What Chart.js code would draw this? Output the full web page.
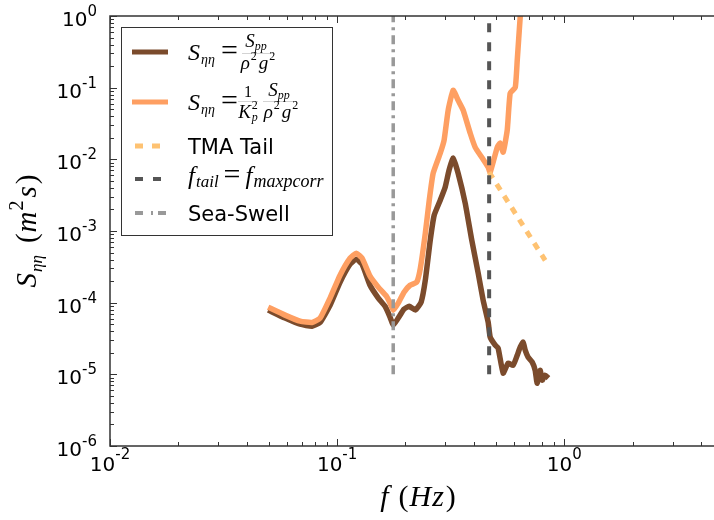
<!DOCTYPE html>
<html>
<head>
<meta charset="utf-8">
<script src="https://cdn.jsdelivr.net/npm/chart.js@4.4.1/dist/chart.umd.min.js"></script>
<style>
  html, body { margin: 0; padding: 0; background: #fff; overflow: hidden; }
  #wrap { width: 714px; height: 520px; overflow: hidden; position: relative; }
</style>
</head>
<body>
<div id="wrap"><canvas id="myChart" width="740" height="520"></canvas></div>
<script>
// spectrum S = Spp / (rho^2 g^2)
const freqRaw = [0.0497, 0.059, 0.0687, 0.0776, 0.0841, 0.0931, 0.103, 0.114, 0.1214, 0.1288,
  0.1396, 0.1518, 0.1626, 0.171, 0.1766, 0.1858, 0.197, 0.2075, 0.221, 0.2344,
  0.2445, 0.257, 0.2675, 0.2845, 0.299, 0.311, 0.3243, 0.341, 0.3664, 0.3917,
  0.418, 0.4395, 0.4624, 0.472, 0.4966, 0.5117, 0.5383, 0.566, 0.5954, 0.6209,
  0.6397, 0.659, 0.673, 0.693, 0.7226, 0.7447, 0.76, 0.783, 0.80, 0.824, 0.851];
const specRaw = [7.9e-5, 6.1e-5, 5.0e-5, 4.7e-5, 5.3e-5, 9.2e-5, 1.93e-4, 3.44e-4, 4.04e-4, 3.44e-4,
  1.75e-4, 1.16e-4, 8.9e-5, 6.3e-5, 4.85e-5, 6.1e-5, 8.1e-5, 8.9e-5, 7.9e-5, 1.02e-4,
  2.06e-4, 7.4e-4, 1.66e-3, 2.69e-3, 4.08e-3, 7.05e-3, 1.04e-2, 6.4e-3, 2.44e-3, 7.4e-4,
  2.58e-4, 1.08e-4, 5.35e-5, 3.3e-5, 2.55e-5, 2.32e-5, 1.04e-5, 1.43e-5, 1.34e-5, 1.85e-5,
  2.4e-5, 2.81e-5, 2.18e-5, 1.74e-5, 1.48e-5, 1.14e-5, 7.5e-6, 1.14e-5, 8.3e-6, 9.75e-6, 8.85e-6];

// spectrum corrected with Kp
const freqCorr = [0.0497, 0.059, 0.0687, 0.0776, 0.0841, 0.0931, 0.103, 0.114, 0.1214, 0.1288,
  0.1396, 0.1518, 0.1648, 0.171, 0.1766, 0.1858, 0.197, 0.2095, 0.224, 0.2325,
  0.2445, 0.2545, 0.2648, 0.2845, 0.2958, 0.3083, 0.3243, 0.341, 0.359, 0.3855,
  0.4055, 0.4356, 0.4624, 0.472, 0.507, 0.5224, 0.5383, 0.561, 0.578, 0.6085,
  0.6209, 0.6397, 0.653];
const specCorr = [8.65e-5, 6.7e-5, 5.52e-5, 5.3e-5, 6.08e-5, 1.16e-4, 2.42e-4, 4.18e-4, 4.9e-4, 4.18e-4,
  2.34e-4, 1.64e-4, 1.23e-4, 9.85e-5, 7.86e-5, 9.85e-5, 1.4e-4, 1.75e-4, 1.93e-4, 3.03e-4,
  9.3e-4, 2.69e-3, 6.4e-3, 1.22e-2, 1.85e-2, 4.84e-2, 9.2e-2, 6.67e-2, 4.84e-2, 2.31e-2,
  1.47e-2, 1.04e-2, 7.76e-3, 6.6e-3, 1.47e-2, 1.68e-2, 1.26e-2, 2.55e-2, 8.36e-2, 0.101,
  0.241, 0.96, 2.3];

const tmaFreq = [0.467, 0.824];
const tmaSpec = [6.6e-3, 3.9e-4];

const fTail = 0.467;
const fSwell = 0.1766;
const vlineSpan = [1e-5, 1];

const xDecades = [-2, -1, 0];
const yDecades = [-6, -5, -4, -3, -2, -1, 0];

const cBrown = '#7b4b2c';
const cOrange = '#fe9f62';
const cTma = '#fec272';
const cTail = '#555555';
const cSwell = '#999999';

const pts = (xs, ys) => xs.map((x, i) => ({ x: x, y: ys[i] }));

// draw a row of text pieces, each {t, f, dy, adv}
function drawRuns(ctx, runs, x, y, align) {
    let w = 0;
    runs.forEach(r => { ctx.font = r.f; r.w = ctx.measureText(r.t).width; if (r.adv !== false) w += r.w + (r.gap || 0); });
    let cx = align === 'center' ? x - w / 2 : align === 'right' ? x - w : x;
    ctx.textAlign = 'left';
    ctx.textBaseline = 'alphabetic';
    runs.forEach(r => {
        ctx.font = r.f;
        ctx.fillText(r.t, cx + (r.dx || 0), y + (r.dy || 0));
        if (r.adv !== false) cx += r.w + (r.gap || 0);
    });
}

const SANS = "'DejaVu Sans'";
const SERIF = "'Liberation Serif'";

const axesPlugin = {
    id: 'mplAxes',
    afterDraw(chart) {
        const ctx = chart.ctx, a = chart.chartArea;
        const xs = chart.scales.x, ys = chart.scales.y;
        ctx.save();
        ctx.strokeStyle = '#333';
        ctx.lineWidth = 1.5;
        ctx.strokeRect(a.left, a.top, a.right - a.left, a.bottom - a.top);

        // ticks, inward
        ctx.lineWidth = 1;
        ctx.beginPath();
        xDecades.concat([1]).forEach(d => {
            for (let m = 1; m <= 9; m++) {
                const v = m * Math.pow(10, d);
                if (v > xs.max) continue;
                const px = Math.round(xs.getPixelForValue(v)) + 0.5;
                const len = m === 1 ? 7 : 4;
                ctx.moveTo(px, a.bottom); ctx.lineTo(px, a.bottom - len);
                ctx.moveTo(px, a.top); ctx.lineTo(px, a.top + len);
            }
        });
        yDecades.forEach(d => {
            for (let m = 1; m <= 9; m++) {
                const v = m * Math.pow(10, d);
                if (v > ys.max) continue;
                const py = Math.round(ys.getPixelForValue(v)) + 0.5;
                const len = m === 1 ? 7 : 4;
                ctx.moveTo(a.left, py); ctx.lineTo(a.left + len, py);
                ctx.moveTo(a.right, py); ctx.lineTo(a.right - len, py);
            }
        });
        ctx.stroke();

        // tick labels
        ctx.fillStyle = '#000';
        xDecades.forEach(d => {
            const px = xs.getPixelForValue(Math.pow(10, d));
            drawRuns(ctx, [
                { t: '10', f: '20px ' + SANS },
                { t: String(d), f: '15px ' + SANS, dy: -12 }
            ], px, a.bottom + 25, 'center');
        });
        yDecades.forEach(d => {
            const py = ys.getPixelForValue(Math.pow(10, d));
            drawRuns(ctx, [
                { t: '10', f: '20px ' + SANS },
                { t: String(d), f: '15px ' + SANS, dy: -10 }
            ], 97, py + 10, 'right');
        });

        // axis titles
        drawRuns(ctx, [
            { t: 'f', f: 'italic 30px ' + SERIF, gap: 10 },
            { t: '(', f: '30px ' + SERIF, gap: 1 },
            { t: 'H', f: 'italic 30px ' + SERIF, gap: 1 },
            { t: 'z', f: 'italic 30px ' + SERIF, gap: 2 },
            { t: ')', f: '30px ' + SERIF }
        ], 418, 506, 'center');

        ctx.save();
        ctx.translate(28, (a.top + a.bottom) / 2);
        ctx.rotate(-Math.PI / 2);
        drawRuns(ctx, [
            { t: 'S', f: 'italic 29px ' + SERIF, gap: 1 },
            { t: 'ηη', f: 'italic 17px ' + SERIF, dy: 6, gap: 12 },
            { t: '(', f: '29px ' + SERIF, gap: 1 },
            { t: 'm', f: 'italic 29px ' + SERIF, gap: 1 },
            { t: '2', f: '20px ' + SERIF, dy: -13, gap: 3 },
            { t: 's', f: 'italic 29px ' + SERIF, gap: 2 },
            { t: ')', f: '29px ' + SERIF }
        ], 0, 8, 'center');
        ctx.restore();

        // legend
        const lx = 121, ly = 27, lw = 211, lh = 208;
        ctx.fillStyle = '#fff';
        ctx.fillRect(lx, ly, lw, lh);
        ctx.strokeStyle = '#333';
        ctx.lineWidth = 1;
        ctx.strokeRect(lx + 0.5, ly + 0.5, lw, lh);

        const sample = (y, color, width, dash) => {
            ctx.beginPath();
            ctx.strokeStyle = color;
            ctx.lineWidth = width;
            ctx.setLineDash(dash);
            ctx.moveTo(dash.length ? 135 : 132, y);
            ctx.lineTo(168, y);
            ctx.stroke();
            ctx.setLineDash([]);
        };
        sample(52, cBrown, 5, []);
        sample(102, cOrange, 5, []);
        sample(146, cTma, 5, [8, 9]);
        sample(179, cTail, 4, [8, 10]);
        sample(213, cSwell, 4, [8, 8, 2, 5]);

        // faint fraction bars
        const bar = (x0, x1, y) => {
            ctx.beginPath();
            ctx.strokeStyle = '#c8c8c8';
            ctx.lineWidth = 0.8;
            ctx.moveTo(x0, y); ctx.lineTo(x1, y);
            ctx.stroke();
        };
        bar(242, 274, 53.5);
        bar(238, 258, 101.5);
        bar(263, 297, 101.5);

        ctx.fillStyle = '#000';
        const it = s => 'italic ' + s + 'px ' + SERIF;
        const rm = s => s + 'px ' + SERIF;
        const lhs = [
            { t: 'S', f: it(24), gap: 1 },
            { t: 'ηη', f: it(14), dy: 4, gap: 6 },
            { t: '=', f: rm(30) }
        ];
        // row 1
        drawRuns(ctx, lhs, 188, 60, 'left');
        drawRuns(ctx, [{ t: 'S', f: it(19) }, { t: 'pp', f: it(12), dy: 3 }], 256, 47, 'center');
        drawRuns(ctx, [{ t: 'ρ', f: it(19), gap: 1 }, { t: '2', f: rm(12), dy: -9, gap: 2 },
            { t: 'g', f: it(19), gap: 1 }, { t: '2', f: rm(12), dy: -9 }], 258, 69, 'center');
        // row 2
        drawRuns(ctx, lhs, 188, 110, 'left');
        drawRuns(ctx, [{ t: '1', f: rm(16) }], 248, 97, 'center');
        drawRuns(ctx, [{ t: 'K', f: it(19), gap: 1 }, { t: '2', f: rm(12), dy: -9, adv: false },
            { t: 'p', f: it(12), dy: 3 }], 248, 118, 'center');
        drawRuns(ctx, [{ t: 'S', f: it(19) }, { t: 'pp', f: it(12), dy: 3 }], 279, 96, 'center');
        drawRuns(ctx, [{ t: 'ρ', f: it(19), gap: 1 }, { t: '2', f: rm(12), dy: -9, gap: 2 },
            { t: 'g', f: it(19), gap: 1 }, { t: '2', f: rm(12), dy: -9 }], 281, 118, 'center');
        // row 3
        drawRuns(ctx, [{ t: 'TMA Tail', f: '21px ' + SANS }], 188, 154, 'left');
        // row 4
        drawRuns(ctx, [
            { t: 'f', f: it(25), gap: 1 },
            { t: 'tail', f: it(17), dy: 3, gap: 5 },
            { t: '=', f: rm(30), gap: 5 },
            { t: 'f', f: it(25), gap: 1 },
            { t: 'maxpcorr', f: it(18), dy: 3 }
        ], 188, 184, 'left');
        // row 5
        drawRuns(ctx, [{ t: 'Sea-Swell', f: '21px ' + SANS }], 188, 221, 'left');

        ctx.restore();
    }
};

document.addEventListener("DOMContentLoaded", function (event) {

    const ctx = document.getElementById('myChart').getContext('2d');
    const myChart = new Chart(ctx, {
        type: 'scatter',
        data: {
            datasets: [{
                label: 'Sea-Swell',
                data: pts([fSwell, fSwell], vlineSpan),
                borderColor: cSwell,
                borderWidth: 3.5,
                borderDash: [9, 5, 3, 5],
                order: 0
            }, {
                label: 'f_tail = f_maxpcorr',
                data: pts([fTail, fTail], vlineSpan),
                borderColor: cTail,
                borderWidth: 4,
                borderDash: [9, 10],
                order: 1
            }, {
                label: 'TMA Tail',
                data: pts(tmaFreq, tmaSpec),
                borderColor: cTma,
                borderWidth: 5,
                borderDash: [7, 7],
                order: 2
            }, {
                label: 'S corrected',
                data: pts(freqCorr, specCorr),
                borderColor: cOrange,
                borderWidth: 5.5,
                tension: 0.15,
                order: 3
            }, {
                label: 'S',
                data: pts(freqRaw, specRaw),
                borderColor: cBrown,
                borderWidth: 5.5,
                tension: 0.15,
                order: 4
            }].map(d => Object.assign({ showLine: true, pointRadius: 0, borderJoinStyle: 'round', borderCapStyle: 'butt' }, d))
        },
        options: {
            responsive: false,
            animation: false,
            layout: { padding: { left: 110, right: 17, top: 16, bottom: 74 } },
            plugins: { legend: { display: false }, tooltip: { enabled: false } },
            scales: {
                x: { type: 'logarithmic', min: 0.01, max: 5, display: false },
                y: { type: 'logarithmic', min: 1e-6, max: 1, display: false }
            }
        },
        plugins: [axesPlugin]
    });

})
</script>
</body>
</html>
